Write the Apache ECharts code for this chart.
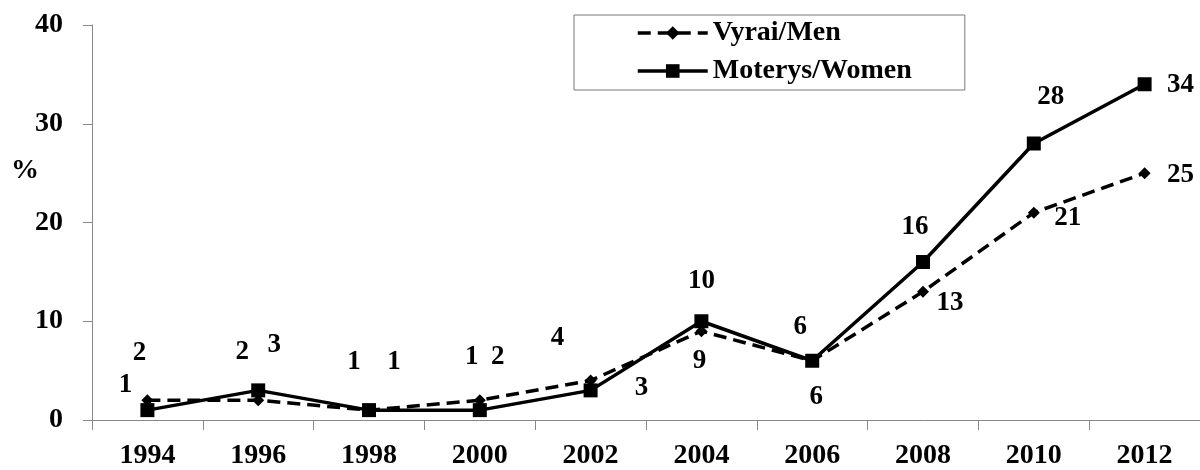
<!DOCTYPE html>
<html>
<head>
<meta charset="utf-8">
<script src="https://cdn.jsdelivr.net/npm/echarts@6/dist/echarts.min.js"></script>
<style>
  html, body { margin: 0; padding: 0; background: #fff; }
  #chart { width: 1200px; height: 470px; }
</style>
</head>
<body>
<div id="chart"></div>
<script>
// categories and values
const years = ['1994', '1996', '1998', '2000', '2002', '2004', '2006', '2008', '2010', '2012'];
const men = [2, 2, 1, 2, 4, 9, 6, 13, 21, 25];
const women = [1, 3, 1, 1, 3, 10, 6, 16, 28, 34];

// label offsets (px) relative to each point, as placed in the original
const menOffsets = [[-8, -47], [-16, -48], [-15, -48], [18, -43], [-33, -42], [-2, 30], [4, 36], [27, 11], [34, 5], [36, 2]];
const womenOffsets = [[-22, -25], [16, -45], [25, -48], [-8, -53], [51, -2], [0, -40], [-12, -34], [-8, -35], [17, -46], [36, 1]];

const serif = '"Liberation Serif", "Times New Roman", serif';

function withLabels(values, offsets) {
  return values.map((v, i) => ({ value: v, label: { offset: offsets[i] } }));
}

const chart = echarts.init(document.getElementById('chart'));

const labelStyle = {
  show: true,
  position: 'inside',
  color: '#000',
  fontFamily: serif,
  fontWeight: 'bold',
  fontSize: 27
};

chart.setOption({
  animation: false,
  backgroundColor: '#fff',
  textStyle: { fontFamily: serif },
  grid: { left: 92, top: 25, width: 1110, height: 395, containLabel: false },
  legend: {
    orient: 'vertical',
    left: 574,
    top: 15,
    padding: [4, 53, 5, 62],
    itemGap: 10,
    itemWidth: 70,
    itemHeight: 17,
    borderColor: '#777',
    borderWidth: 1,
    lineStyle: { width: 3.5 },
    textStyle: { color: '#000', fontFamily: serif, fontWeight: 'bold', fontSize: 28 },
    data: ['Vyrai/Men', 'Moterys/Women']
  },
  graphic: [{
    type: 'text',
    left: 11,
    top: 157,
    style: { text: '%', fill: '#000', font: 'bold 28px ' + serif }
  }],
  xAxis: {
    type: 'category',
    data: years,
    boundaryGap: true,
    axisLine: { lineStyle: { color: '#888', width: 1 } },
    axisTick: { show: true, length: 10, lineStyle: { color: '#888' } },
    axisLabel: { color: '#000', fontFamily: serif, fontWeight: 'bold', fontSize: 28, margin: 22 },
    splitLine: { show: false }
  },
  yAxis: {
    type: 'value',
    min: 0,
    max: 40,
    interval: 10,
    axisLine: { show: true, lineStyle: { color: '#888', width: 1 } },
    axisTick: { show: true, length: 9, lineStyle: { color: '#888' } },
    axisLabel: { color: '#000', fontFamily: serif, fontWeight: 'bold', fontSize: 28, margin: 29 },
    splitLine: { show: false }
  },
  series: [
    {
      name: 'Vyrai/Men',
      type: 'line',
      data: withLabels(men, menOffsets),
      symbol: 'diamond',
      symbolSize: 12,
      lineStyle: { color: '#000', width: 3.5, type: [13, 7] },
      itemStyle: { color: '#000' },
      label: labelStyle,
      z: 2
    },
    {
      name: 'Moterys/Women',
      type: 'line',
      data: withLabels(women, womenOffsets),
      symbol: 'rect',
      symbolSize: 14,
      lineStyle: { color: '#000', width: 3.5, type: 'solid' },
      itemStyle: { color: '#000' },
      label: labelStyle,
      z: 3
    }
  ]
});

window.addEventListener('resize', () => chart.resize());
</script>
</body>
</html>
